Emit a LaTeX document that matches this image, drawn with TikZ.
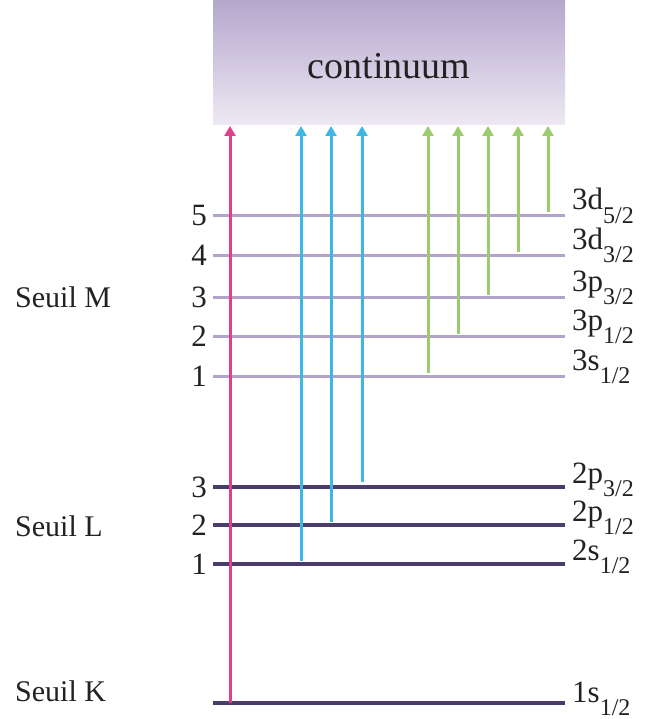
\documentclass[tikz,border=0pt]{standalone}
\usepackage{fontspec}
\setmainfont{Liberation Serif}
\usetikzlibrary{arrows.meta}
\definecolor{txt}{HTML}{222222}
\definecolor{lvlM}{HTML}{B3A3CB}
\definecolor{lvlL}{HTML}{4B3D6B}
\definecolor{pinkc}{HTML}{E0408A}
\definecolor{bluec}{HTML}{3DB8E3}
\definecolor{greenc}{HTML}{9CCB6E}
\definecolor{ctop}{HTML}{B4A7CD}
\definecolor{cbot}{HTML}{EEE9F3}
\newcommand{\lsub}[1]{\raisebox{-0.42em}{\fontsize{24}{24}\selectfont #1}}
\begin{document}
\begin{tikzpicture}[x=1pt,y=-1pt,
  lvlm/.style={draw=lvlM,line width=3pt},
  lvll/.style={draw=lvlL,line width=3.2pt},
  num/.style={anchor=east,text=txt,font=\fontsize{31}{31}\selectfont,inner sep=0pt},
  seuil/.style={anchor=west,text=txt,font=\fontsize{30}{30}\selectfont,inner sep=0pt},
  orb/.style={anchor=base west,text=txt,font=\fontsize{31}{31}\selectfont,inner sep=0pt},
  exc/.style={line width=3pt,-{Triangle[length=10pt,width=11pt]}},
]
\useasboundingbox (0,0) rectangle (645,719);
% continuum
\shade[top color=ctop,bottom color=cbot] (213,0) rectangle (565,125);
\node[text=txt,font=\fontsize{38}{38}\selectfont] (cont) at (389,66) {continuum};
% levels
\foreach \n/\y/\st in {M5/216/lvlm,M4/255/lvlm,M3/297/lvlm,M2/336/lvlm,M1/376/lvlm,L3/487/lvll,L2/525/lvll,L1/564/lvll,K/703/lvll}{
  \coordinate (\n-a) at (213,\y);
  \coordinate (\n-b) at (565,\y);
  \draw[\st] (\n-a) -- (\n-b);
}
% numbers
\foreach \n/\t in {M5/5,M4/4,M3/3,M2/2,M1/1,L3/3,L2/2,L1/1}{
  \node[num] (num-\n) at ([xshift=-6pt]\n-a) {\t};
}
% seuil labels
\node[seuil] (sM) at (15,297) {Seuil M};
\node[seuil] (sL) at (15,526) {Seuil L};
\node[seuil] (sK) at (15,691) {Seuil K};
% orbital labels
\node[orb] (oM5) at ([xshift=7pt,yshift=6pt]M5-b) {3d\lsub{5/2}};
\node[orb] (oM4) at ([xshift=7pt,yshift=6pt]M4-b) {3d\lsub{3/2}};
\node[orb] (oM3) at ([xshift=7pt,yshift=6pt]M3-b) {3p\lsub{3/2}};
\node[orb] (oM2) at ([xshift=7pt,yshift=6pt]M2-b) {3p\lsub{1/2}};
\node[orb] (oM1) at ([xshift=7pt,yshift=6pt]M1-b) {3s\lsub{1/2}};
\node[orb] (oL3) at ([xshift=7pt,yshift=4pt]L3-b) {2p\lsub{3/2}};
\node[orb] (oL2) at ([xshift=7pt,yshift=4pt]L2-b) {2p\lsub{1/2}};
\node[orb] (oL1) at ([xshift=7pt,yshift=4pt]L1-b) {2s\lsub{1/2}};
\node[orb] (oK) at ([xshift=7pt,yshift=1pt]K-b) {1s\lsub{1/2}};
% arrows
\draw[exc,pinkc] (230,703) -- (230,126);
\draw[exc,bluec] (301,561) -- (301,126);
\draw[exc,bluec] (331,522) -- (331,126);
\draw[exc,bluec] (362,482) -- (362,126);
\draw[exc,greenc] (428,373) -- (428,126);
\draw[exc,greenc] (458,334) -- (458,126);
\draw[exc,greenc] (488,295) -- (488,126);
\draw[exc,greenc] (518,252) -- (518,126);
\draw[exc,greenc] (548,212) -- (548,126);
\end{tikzpicture}
\end{document}
